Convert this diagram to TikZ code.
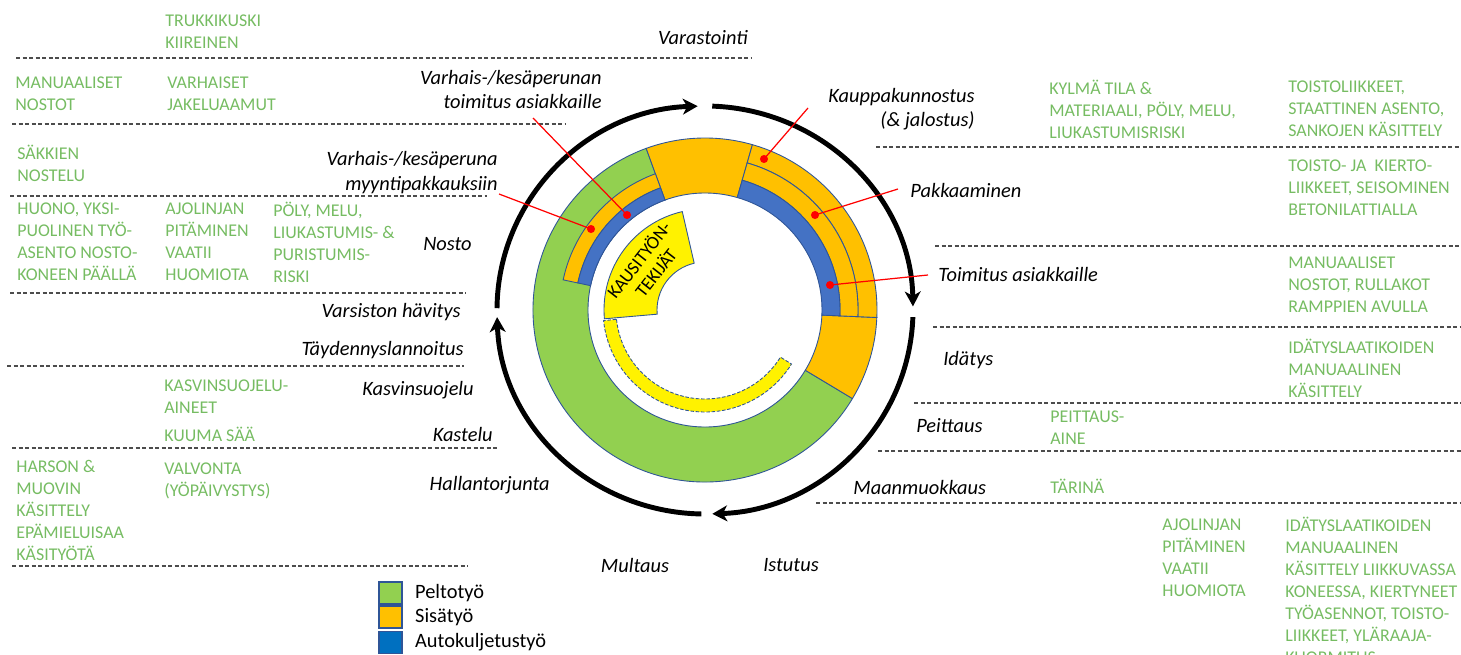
\documentclass[tikz,border=0pt]{standalone}
\usepackage{fontspec}
\setmainfont{Carlito}
\usetikzlibrary{arrows.meta,positioning}

\definecolor{peltoC}{HTML}{92D050}
\definecolor{sisaC}{HTML}{FFC000}
\definecolor{autoC}{HTML}{4472C4}
\definecolor{legautoC}{HTML}{0070C0}
\definecolor{edgeC}{HTML}{2F5597}
\definecolor{riskC}{RGB}{118,188,98}

% annular sector: start angle, end angle, inner radius, outer radius, options
\newcommand{\ringpart}[5]{%
  \filldraw[#5] (#1:#3) arc[start angle=#1,end angle=#2,radius=#3]
    -- (#2:#4) arc[start angle=#2,end angle=#1,radius=#4] -- cycle;}

\tikzset{
  phase/.style={font=\itshape\fontsize{11.6}{13.8}\selectfont, inner sep=0pt},
  risk/.style={text=riskC, font=\fontsize{10.2}{12.5}\selectfont, align=left, anchor=west, inner sep=0pt},
  rowline/.style={black!70, line width=0.7pt, dash pattern=on 2.3pt off 1.4pt},
  ringedge/.style={draw=edgeC, line width=0.5pt},
  pointer/.style={red, line width=0.7pt},
  reddot/.style={circle, fill=red, inner sep=0pt, minimum size=4.6pt},
  cyclearrow/.style={line width=2.8pt, -{Stealth[length=8.5pt,width=9pt,inset=2.5pt]}},
  legbox/.style={draw=edgeC, line width=0.7pt, minimum width=13pt, minimum height=12.5pt, inner sep=0pt},
  legtext/.style={font=\fontsize{11.6}{13.8}\selectfont, inner sep=0pt, anchor=west},
}

\begin{document}
\begin{tikzpicture}[x=0.02cm, y=-0.02cm]
\useasboundingbox (0,0) rectangle (1461,655);

% row separators
\foreach \ya/\xa/\xb in {58/16/752, 124/12/565, 196/10/487, 293/10/466, 366/7/464,
    448/12/498, 566/12/468, 147/876/1461, 246/935/1461, 327/933/1461,
    403/914/1461, 451/878/1461, 503/816/1461}
  \draw[rowline] (\xa,\ya) -- (\xb,\ya);

% ring of work types
\begin{scope}[shift={(705,310)}, yscale=-1]
  \ringpart{110}{329}{117}{172}{ringedge, fill=peltoC}
  \ringpart{74}{110}{117}{172}{ringedge, fill=sisaC}
  \ringpart{-31}{-2.5}{117}{172}{ringedge, fill=sisaC}
  \ringpart{-2.5}{74}{153}{172}{ringedge, fill=sisaC}
  \ringpart{-2.5}{74}{135}{153}{ringedge, fill=sisaC}
  \ringpart{-2.5}{74}{117}{135}{ringedge, fill=autoC}
  \ringpart{110}{168}{130}{145}{ringedge, fill=sisaC}
  \ringpart{110}{168}{117}{130}{ringedge, fill=autoC}
  \ringpart{103}{185}{48}{101}{ringedge, fill=yellow}
  \ringpart{186}{328}{89}{102}{ringedge, dash pattern=on 2pt off 1pt, fill=yellow}
  \node[rotate=52, align=center, inner sep=0pt, font=\fontsize{10.4}{12.2}\selectfont] (kausi) at (143:73) {KAUSITYÖN-\\TEKIJÄT};
  % season cycle
  \draw[cyclearrow] (179.5:208 and 204) arc[start angle=179.5, end angle=92, x radius=208, y radius=204];
  \draw[cyclearrow] (88:208 and 204) arc[start angle=88, end angle=1, x radius=208, y radius=204];
  \draw[cyclearrow] (-2:208 and 204) arc[start angle=-2, end angle=-88, x radius=208, y radius=204];
  \draw[cyclearrow] (-91:208 and 204) arc[start angle=-91, end angle=-178, x radius=208, y radius=204];
\end{scope}

% phases
\node[phase, anchor=east] (varast) at (748,38) {Varastointi};
\node[phase, anchor=east, align=right] (toimL) at (602,89.5) {Varhais-/kesäperunan\\toimitus asiakkaille};
\node[phase, anchor=east, align=right] (myynti) at (498,172.5) {Varhais-/kesäperuna\\myyntipakkauksiin};
\node[phase, anchor=east] (nosto) at (472,244) {Nosto};
\node[phase, anchor=east] (varsisto) at (461,312) {Varsiston hävitys};
\node[phase, anchor=east] (taydennys) at (464,350) {Täydennyslannoitus};
\node[phase, anchor=east] (kasvinsuoj) at (474,390) {Kasvinsuojelu};
\node[phase, anchor=east] (kastelu) at (493,434) {Kastelu};
\node[phase, anchor=east] (halla) at (550,485) {Hallantorjunta};
\node[phase] (multaus) at (635,565) {Multaus};
\node[phase] (istutus) at (791,565) {Istutus};
\node[phase, anchor=east, align=right] (kauppa) at (975,109.5) {Kauppakunnostus\\(\& jalostus)};
\node[phase, anchor=west] (pakkaa) at (910,190) {Pakkaaminen};
\node[phase, anchor=west] (toimR) at (938,275) {Toimitus asiakkaille};
\node[phase, anchor=west] (idatys) at (943,360) {Idätys};
\node[phase, anchor=west] (peittaus) at (916,426) {Peittaus};
\node[phase, anchor=west] (maanm) at (853,487) {Maanmuokkaus};

% pointers into the ring
\coordinate (pToimL) at (533,118);
\coordinate (pMyynti) at (499,194);
\coordinate (pKauppa) at (808,108);
\coordinate (pPakkaa) at (898,189);
\coordinate (pToimR) at (928,275);
\draw[pointer] (pToimL) -- (627,215) node[reddot] (dToimL) {};
\draw[pointer] (pMyynti) -- (591,229) node[reddot] (dMyynti) {};
\draw[pointer] (pKauppa) -- (764,159) node[reddot] (dKauppa) {};
\draw[pointer] (pPakkaa) -- (815,215) node[reddot] (dPakkaa) {};
\draw[pointer] (pToimR) -- (830,285) node[reddot] (dToimR) {};

% risks, left side
\node[risk] (rTrukki) at (165,32) {TRUKKIKUSKI\\KIIREINEN};
\node[risk] (rManu) at (15,94) {MANUAALISET\\NOSTOT};
\node[risk] (rVarh) at (167,94) {VARHAISET\\JAKELUAAMUT};
\node[risk] (rSakki) at (17,163) {SÄKKIEN\\NOSTELU};
\node[risk] (rHuono) at (17,242) {HUONO, YKSI-\\PUOLINEN TYÖ-\\ASENTO NOSTO-\\KONEEN PÄÄLLÄ};
\node[risk] (rAjoL) at (165,242) {AJOLINJAN\\PITÄMINEN\\VAATII\\HUOMIOTA};
\node[risk] (rPoly) at (273,242) {PÖLY, MELU,\\LIUKASTUMIS- \&\\PURISTUMIS-\\RISKI};
\node[risk] (rKasv) at (164,396.5) {KASVINSUOJELU-\\AINEET};
\node[risk] (rKuuma) at (164,434) {KUUMA SÄÄ};
\node[risk] (rHarso) at (16,510.5) {HARSON \&\\MUOVIN\\KÄSITTELY\\EPÄMIELUISAA\\KÄSITYÖTÄ};
\node[risk] (rValv) at (164,481) {VALVONTA\\(YÖPÄIVYSTYS)};

% risks, right side
\node[risk] (rKylma) at (1049,109) {KYLMÄ TILA \&\\MATERIAALI, PÖLY, MELU,\\LIUKASTUMISRISKI};
\node[risk] (rToisto) at (1288,109) {TOISTOLIIKKEET,\\STAATTINEN ASENTO,\\SANKOJEN KÄSITTELY};
\node[risk] (rKierto) at (1288,188) {TOISTO- JA\ \ KIERTO-\\LIIKKEET, SEISOMINEN\\BETONILATTIALLA};
\node[risk] (rRulla) at (1288,285) {MANUAALISET\\NOSTOT, RULLAKOT\\RAMPPIEN AVULLA};
\node[risk] (rIdat) at (1288,368) {IDÄTYSLAATIKOIDEN\\MANUAALINEN\\KÄSITTELY};
\node[risk] (rPeitt) at (1050,427.5) {PEITTAUS-\\AINE};
\node[risk] (rTarina) at (1050,486) {TÄRINÄ};
\node[risk] (rAjoR) at (1162,558) {AJOLINJAN\\PITÄMINEN\\VAATII\\HUOMIOTA};
\node[risk] (rIstK) at (1285,590) {IDÄTYSLAATIKOIDEN\\MANUAALINEN\\KÄSITTELY LIIKKUVASSA\\KONEESSA, KIERTYNEET\\TYÖASENNOT, TOISTO-\\LIIKKEET, YLÄRAAJA-\\KUORMITUS};

% legend
\node[legbox, fill=peltoC] (legPelto) at (390.5,593) {};
\node[legbox, fill=sisaC] (legSisa) at (390.5,617) {};
\node[legbox, fill=legautoC] (legAuto) at (390.5,642.5) {};
\node[legtext, right=7pt of legPelto] (txtPelto) {Peltotyö};
\node[legtext, right=7pt of legSisa] (txtSisa) {Sisätyö};
\node[legtext, right=7pt of legAuto] (txtAuto) {Autokuljetustyö};
\end{tikzpicture}
\end{document}
